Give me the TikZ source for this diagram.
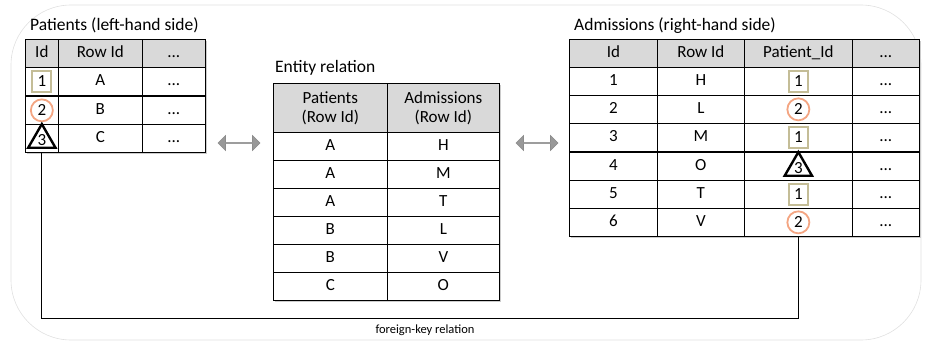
\documentclass[tikz,border=0pt]{standalone}
\usepackage{fontspec}
\setmainfont{Carlito}
\usetikzlibrary{shapes.geometric,shapes.arrows}
\definecolor{hdrgray}{HTML}{D9D9D9}
\definecolor{keytan}{HTML}{C4BD97}
\definecolor{keysalmon}{HTML}{F4A582}
\begin{document}
\begin{tikzpicture}[x=1pt,y=-1pt,
  cellbase/.style={draw=black, line width=0.7pt, inner sep=0pt, anchor=north west,
    font=\fontsize{17}{19}\selectfont, align=center},
  cell/.style={cellbase, text height=12pt, text depth=3.5pt},
  hdr/.style={cell, fill=hdrgray},
  hdrtwo/.style={cellbase, fill=hdrgray},
  shadowbox/.style={fill=black!20},
  title/.style={anchor=west, font=\fontsize{17.5}{19}\selectfont, inner sep=0pt},
  keysq/.style={draw=keytan, line width=1.8pt, minimum width=19pt, minimum height=21pt,
    inner sep=0pt, fill=white, font=\fontsize{17}{19}\selectfont},
  keycirc/.style={circle, draw=keysalmon, line width=1.8pt, minimum size=22pt,
    inner sep=0pt, fill=white, font=\fontsize{17}{19}\selectfont},
  keytri/.style={regular polygon, regular polygon sides=3, draw=black, line width=2.4pt,
    minimum size=31pt, inner sep=0pt, font=\fontsize{17}{19}\selectfont},
  dblarrow/.style={double arrow, fill=black!40, draw=black!45, line width=0.6pt,
    minimum height=42pt, minimum width=15pt, double arrow head extend=3.5pt, inner sep=0pt},
  fkline/.style={draw=black, line width=0.9pt},
]
\useasboundingbox (0,0) rectangle (926,345);

% soft outer frame
\draw[black!12, line width=0.6pt, rounded corners=60pt] (11,5) rectangle (921,340);

% ---------------- Patients table ----------------
\node[title] (ltitle) at (30,25) {Patients (left-hand side)};
\fill[shadowbox] (27,41) rectangle (207,154);
\node[hdr, minimum width=33pt, minimum height=28pt] (L-h1) at (25,39) {Id};
\node[hdr, minimum width=84pt, minimum height=28pt] (L-h2) at (58,39) {Row Id};
\node[hdr, minimum width=63pt, minimum height=28pt] (L-h3) at (142,39) {...};
\foreach \r/\y/\rid in {1/67/A, 2/96/B, 3/124/C}{
  \node[cell, fill=white, minimum width=33pt, minimum height=28pt] (L-\r-1) at (25,\y) {};
  \node[cell, fill=white, minimum width=84pt, minimum height=28pt] (L-\r-2) at (58,\y) {\rid};
  \node[cell, fill=white, minimum width=63pt, minimum height=28pt] (L-\r-3) at (142,\y) {...};
}
\node[keysq] (L-k1) at (L-1-1.center) {1};
\node[keycirc] (L-k2) at (L-2-1.center) {2};
\node[keytri] (L-k3) at ([yshift=-1.5pt]L-3-1.center) {3};

% ---------------- Entity relation table ----------------
\node[title] (mtitle) at (275,68) {Entity relation};
\fill[shadowbox] (275,85) rectangle (501,302);
\node[hdrtwo, minimum width=114pt, minimum height=49pt] (M-h1) at (273,83) {Patients\\(Row Id)};
\node[hdrtwo, minimum width=112pt, minimum height=49pt] (M-h2) at (387,83) {Admissions\\(Row Id)};
\foreach \r/\y/\a/\b in {1/132/A/H, 2/160/A/M, 3/188/A/T, 4/216/B/L, 5/244/B/V, 6/272/C/O}{
  \node[cell, fill=white, minimum width=114pt, minimum height=28pt] (M-\r-1) at (273,\y) {\a};
  \node[cell, fill=white, minimum width=112pt, minimum height=28pt] (M-\r-2) at (387,\y) {\b};
}

% ---------------- Admissions table ----------------
\node[title] (rtitle) at (574,26) {Admissions (right-hand side)};
\fill[shadowbox] (571,41) rectangle (921,238);
\node[hdr, minimum width=88pt, minimum height=28pt] (R-h1) at (569,39) {Id};
\node[hdr, minimum width=87pt, minimum height=28pt] (R-h2) at (657,39) {Row Id};
\node[hdr, minimum width=108pt, minimum height=28pt] (R-h3) at (744,39) {Patient\_Id};
\node[hdr, minimum width=67pt, minimum height=28pt] (R-h4) at (852,39) {...};
\foreach \r/\y/\rid in {1/67/H, 2/95/L, 3/123/M, 4/152/O, 5/180/T, 6/208/V}{
  \node[cell, fill=white, minimum width=88pt, minimum height=28pt] (R-\r-1) at (569,\y) {\r};
  \node[cell, fill=white, minimum width=87pt, minimum height=28pt] (R-\r-2) at (657,\y) {\rid};
  \node[cell, fill=white, minimum width=108pt, minimum height=28pt] (R-\r-3) at (744,\y) {};
  \node[cell, fill=white, minimum width=67pt, minimum height=28pt] (R-\r-4) at (852,\y) {...};
}
\node[keysq] (R-k1) at (R-1-3.center) {1};
\node[keycirc] (R-k2) at (R-2-3.center) {2};
\node[keysq] (R-k3) at (R-3-3.center) {1};
\node[keytri] (R-k4) at ([yshift=-1.5pt]R-4-3.center) {3};
\node[keysq] (R-k5) at (R-5-3.center) {1};
\node[keycirc] (R-k6) at (R-6-3.center) {2};

% ---------------- correspondence arrows ----------------
\node[dblarrow] (arrL) at (239,143) {};
\node[dblarrow] (arrR) at (537,143) {};

% ---------------- foreign-key connector ----------------
\coordinate (fkL) at (L-3-1.south |- 0,318);
\coordinate (fkR) at (R-6-3.south |- 0,318);
\draw[fkline] (L-3-1.south) -- (fkL) -- (fkR) -- (R-6-3.south);
\node[font=\fontsize{12.5}{14}\selectfont, inner sep=0pt] (fklabel) at (425,330) {foreign-key relation};

\end{tikzpicture}
\end{document}
